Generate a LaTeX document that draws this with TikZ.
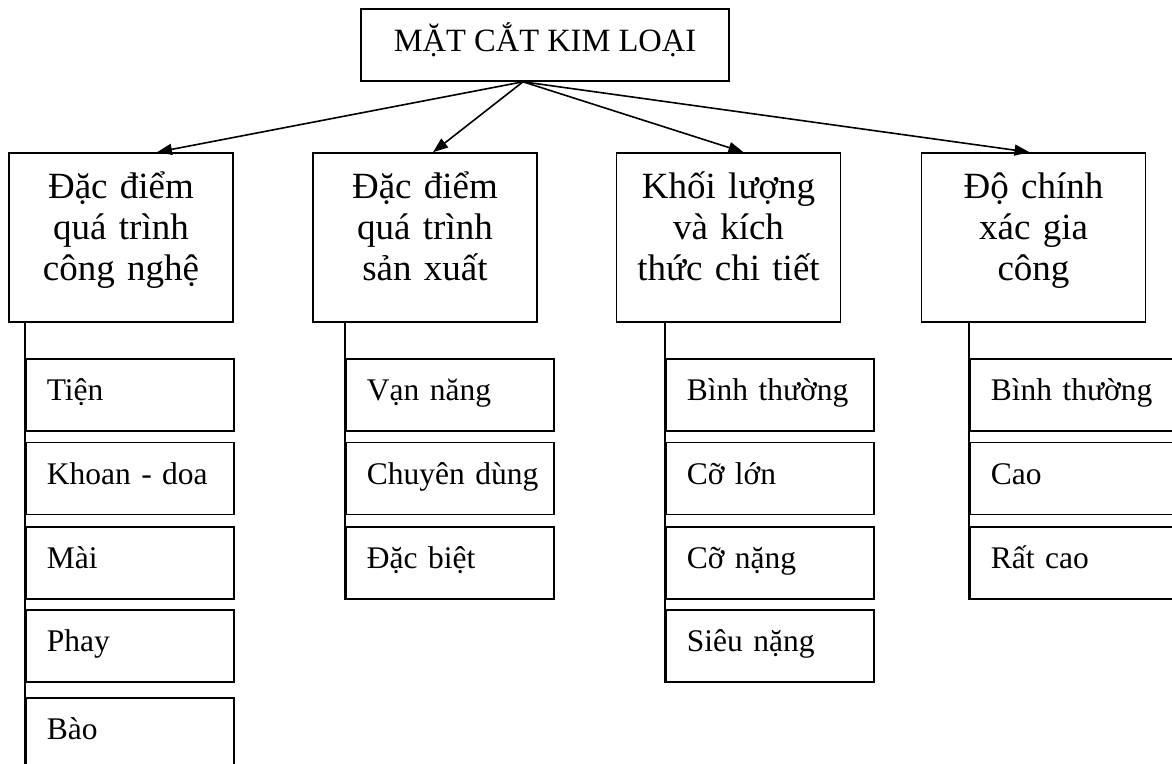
\documentclass[tikz,border=0pt]{standalone}
\usepackage{fontspec}
\setmainfont{Liberation Serif}
\usetikzlibrary{arrows.meta}

\tikzset{
  frame/.style={draw, line width=1.6pt},
  topbox/.style={frame, minimum width=368pt, minimum height=72pt, inner sep=0pt,
    text height=20pt, text depth=8pt, font=\fontsize{32.5}{38}\selectfont},
  catbox/.style={frame, minimum width=224pt, minimum height=169pt, inner sep=0pt,
    text width=210pt, align=center, text height=30pt, text depth=109pt,
    font=\fontsize{37}{41}\selectfont},
  itembox/.style={frame, anchor=north west, minimum width=208pt, minimum height=72pt,
    text width=166pt, inner xsep=21pt, inner ysep=0pt, align=left,
    text height=22pt, text depth=10pt, font=\fontsize{31.5}{36}\selectfont},
  link/.style={line width=1.6pt, -{Triangle[length=15pt,width=11pt]}},
  stem/.style={line width=1.6pt},
}

\begin{document}
\begin{tikzpicture}[x=1pt,y=-1pt]
  \clip (0,0) rectangle (1172,763);

  \node[topbox] (top) at (545,45) {MẶT CẮT KIM LOẠI};

  % the four groups
  \node[catbox] (cat1) at (121,237.5) {Đặc điểm\\quá trình\\công nghệ};
  \node[catbox] (cat2) at (425,237.5) {Đặc điểm\\quá trình\\sản xuất};
  \node[catbox] (cat3) at (728.5,237.5) {Khối lượng\\và kích\\thức chi tiết};
  \node[catbox] (cat4) at (1033.5,237.5) {Độ chính\\xác gia\\công};

  \coordinate (src) at ([xshift=-22pt]top.south);
  \draw[link] (src) -- ([xshift=36pt]cat1.north);
  \draw[link] (src) -- ([xshift=8pt]cat2.north);
  \draw[link] (src) -- ([xshift=15pt]cat3.north);
  \draw[link] (src) -- ([xshift=-4pt]cat4.north);

  % items under each group
  \foreach \y/\txt [count=\i] in {358/Tiện, 441.5/Khoan - doa, 526/Mài, 609/Phay, 697/Bào}
    \node[itembox] (tech\i) at (25,\y) {\mbox{\txt}};
  \foreach \y/\txt [count=\i] in {358/Vạn năng, 441.5/Chuyên dùng, 526/Đặc biệt}
    \node[itembox] (prod\i) at (345,\y) {\mbox{\txt}};
  \foreach \y/\txt [count=\i] in {358/Bình thường, 441.5/Cỡ lớn, 526/Cỡ nặng, 609/Siêu nặng}
    \node[itembox] (size\i) at (665,\y) {\mbox{\txt}};
  \foreach \y/\txt [count=\i] in {358/Bình thường, 441.5/Cao, 526/Rất cao}
    \node[itembox] (prec\i) at (969,\y) {\mbox{\txt}};

  \draw[stem] (tech1.north west |- cat1.south) -- (tech5.south west);
  \draw[stem] (prod1.north west |- cat2.south) -- (prod3.south west);
  \draw[stem] (size1.north west |- cat3.south) -- (size4.south west);
  \draw[stem] (prec1.north west |- cat4.south) -- (prec3.south west);
\end{tikzpicture}
\end{document}
